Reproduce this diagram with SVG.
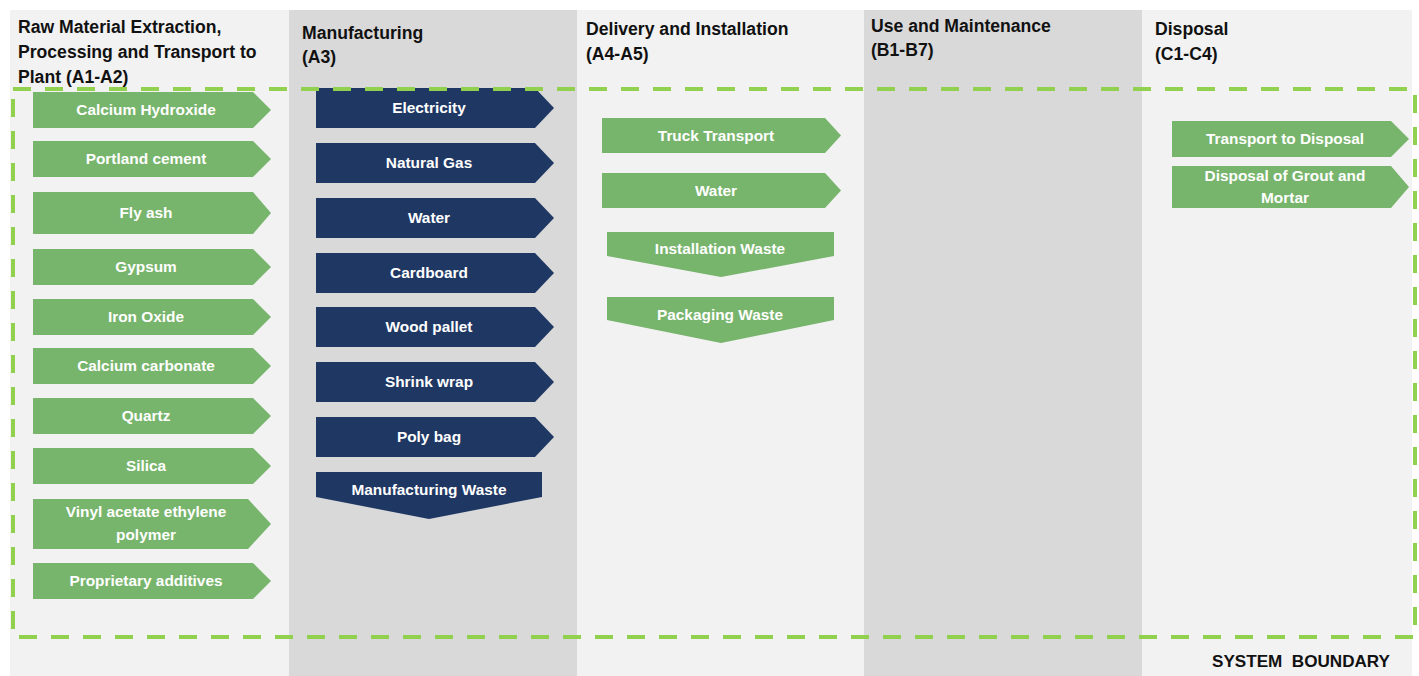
<svg xmlns="http://www.w3.org/2000/svg" width="1419" height="676" viewBox="0 0 1419 676">
<style>
.hdr{font-family:"Liberation Sans",Arial,sans-serif;font-weight:bold;font-size:17.6px;fill:#111}
.lbl{font-family:"Liberation Sans",Arial,sans-serif;font-weight:bold;font-size:15.4px;fill:#fff;text-anchor:middle}
.g{fill:#77b46c}
.n{fill:#1f3763}
.light{fill:#f2f2f2}
.dark{fill:#d9d9d9}
.sb{font-family:"Liberation Sans",Arial,sans-serif;font-weight:bold;font-size:16.5px;fill:#111}
</style>
<rect width="1419" height="676" fill="#fff"/>
<g id="columns">
<rect class="light" x="10" y="10" width="279" height="666"/>
<rect class="dark" x="289" y="10" width="288" height="666"/>
<rect class="light" x="577" y="10" width="287" height="666"/>
<rect class="dark" x="864" y="10" width="278" height="666"/>
<rect class="light" x="1142" y="10" width="270" height="666"/>
</g>
<g id="headers">
<text class="hdr" x="18" y="33">Raw Material Extraction,</text>
<text class="hdr" x="18" y="58">Processing and Transport to</text>
<text class="hdr" x="18" y="83">Plant (A1-A2)</text>
<text class="hdr" x="302" y="39">Manufacturing</text>
<text class="hdr" x="302" y="63">(A3)</text>
<text class="hdr" x="586" y="35">Delivery and Installation</text>
<text class="hdr" x="586" y="60">(A4-A5)</text>
<text class="hdr" x="871" y="32">Use and Maintenance</text>
<text class="hdr" x="871" y="56">(B1-B7)</text>
<text class="hdr" x="1155" y="35">Disposal</text>
<text class="hdr" x="1155" y="60">(C1-C4)</text>
</g>
<!-- A1-A2 -->
<g id="calcium-hydroxide"><path class="g" d="M33,92H253L271,110L253,128H33Z"/><text class="lbl" x="146" y="115">Calcium Hydroxide</text></g>
<g id="portland-cement"><path class="g" d="M33,141H253L271,159L253,177H33Z"/><text class="lbl" x="146" y="164">Portland cement</text></g>
<g id="fly-ash"><path class="g" d="M33,192H253L271,213L253,234H33Z"/><text class="lbl" x="146" y="218">Fly ash</text></g>
<g id="gypsum"><path class="g" d="M33,249H253L271,267L253,285H33Z"/><text class="lbl" x="146" y="272">Gypsum</text></g>
<g id="iron-oxide"><path class="g" d="M33,299H253L271,317L253,335H33Z"/><text class="lbl" x="146" y="322">Iron Oxide</text></g>
<g id="calcium-carbonate"><path class="g" d="M33,348H253L271,366L253,384H33Z"/><text class="lbl" x="146" y="371">Calcium carbonate</text></g>
<g id="quartz"><path class="g" d="M33,398H253L271,416L253,434H33Z"/><text class="lbl" x="146" y="421">Quartz</text></g>
<g id="silica"><path class="g" d="M33,448H253L271,466L253,484H33Z"/><text class="lbl" x="146" y="471">Silica</text></g>
<g id="vinyl-acetate"><path class="g" d="M33,499H248L271,524L248,549H33Z"/><text class="lbl" x="146" y="517">Vinyl acetate ethylene</text><text class="lbl" x="146" y="540">polymer</text></g>
<g id="proprietary-additives"><path class="g" d="M33,563H253L271,581L253,599H33Z"/><text class="lbl" x="146" y="586">Proprietary additives</text></g>
<!-- A3 -->
<g id="electricity"><path class="n" d="M316,88H535L554,108L535,128H316Z"/><text class="lbl" x="429" y="113">Electricity</text></g>
<g id="natural-gas"><path class="n" d="M316,143H535L554,163L535,183H316Z"/><text class="lbl" x="429" y="168">Natural Gas</text></g>
<g id="water-a3"><path class="n" d="M316,198H535L554,218L535,238H316Z"/><text class="lbl" x="429" y="223">Water</text></g>
<g id="cardboard"><path class="n" d="M316,253H535L554,273L535,293H316Z"/><text class="lbl" x="429" y="278">Cardboard</text></g>
<g id="wood-pallet"><path class="n" d="M316,307H535L554,327L535,347H316Z"/><text class="lbl" x="429" y="332">Wood pallet</text></g>
<g id="shrink-wrap"><path class="n" d="M316,362H535L554,382L535,402H316Z"/><text class="lbl" x="429" y="387">Shrink wrap</text></g>
<g id="poly-bag"><path class="n" d="M316,417H535L554,437L535,457H316Z"/><text class="lbl" x="429" y="442">Poly bag</text></g>
<g id="manufacturing-waste"><path class="n" d="M316,472H542V497L429,519L316,497Z"/><text class="lbl" x="429" y="495">Manufacturing Waste</text></g>
<!-- A4-A5 -->
<g id="truck-transport"><path class="g" d="M602,118H825L841,135.5L825,153H602Z"/><text class="lbl" x="716" y="141">Truck Transport</text></g>
<g id="water-a4"><path class="g" d="M602,173H825L841,190.5L825,208H602Z"/><text class="lbl" x="716" y="196">Water</text></g>
<g id="installation-waste"><path class="g" d="M607,232H834V256L721,277L607,256Z"/><text class="lbl" x="720" y="254">Installation Waste</text></g>
<g id="packaging-waste"><path class="g" d="M607,297H834V320L721,343L607,320Z"/><text class="lbl" x="720" y="320">Packaging Waste</text></g>
<!-- C1-C4 -->
<g id="transport-to-disposal"><path class="g" d="M1172,121H1391L1409,139L1391,157H1172Z"/><text class="lbl" x="1285" y="144">Transport to Disposal</text></g>
<g id="disposal-grout"><path class="g" d="M1172,166H1391L1409,187L1391,208H1172Z"/><text class="lbl" x="1285" y="181">Disposal of Grout and</text><text class="lbl" x="1285" y="203">Mortar</text></g>
<g id="system-boundary">
<rect x="13" y="89" width="1402" height="548" fill="none" stroke="#92d050" stroke-width="4" stroke-dasharray="18 14"/>
<text class="sb" x="1212" y="667" textLength="178" lengthAdjust="spacingAndGlyphs" xml:space="preserve">SYSTEM  BOUNDARY</text>
</g>
</svg>
